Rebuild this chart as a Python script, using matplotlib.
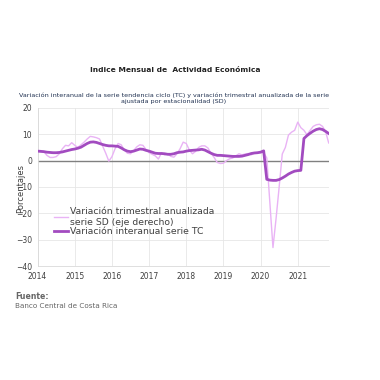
import numpy as np
import matplotlib
matplotlib.use("Agg")
import matplotlib.pyplot as plt

# monthly series, Jan 2014 .. Nov 2021
START_YEAR = 2014
tc = [
    3.6, 3.5, 3.4, 3.2, 3.1, 3.0, 3.0, 3.1, 3.3, 3.6, 3.9, 4.2,      # 2014
    4.4, 4.7, 5.1, 5.8, 6.5, 7.0, 7.1, 6.9, 6.5, 6.1, 5.8, 5.6,      # 2015
    5.6, 5.5, 5.4, 4.8, 4.1, 3.6, 3.4, 3.6, 4.0, 4.4, 4.3, 3.9,      # 2016
    3.6, 3.2, 2.8, 2.7, 2.7, 2.6, 2.4, 2.4, 2.6, 3.0, 3.2, 3.3,      # 2017
    3.6, 3.8, 3.9, 4.0, 4.1, 4.3, 4.0, 3.4, 2.8, 2.3, 2.0, 2.0,      # 2018
    1.9, 1.8, 1.7, 1.6, 1.6, 1.6, 1.7, 2.0, 2.3, 2.7, 2.9, 3.0,      # 2019
    3.2, 3.7, -7.1, -7.4, -7.5, -7.5, -7.2, -6.6, -5.9, -5.1, -4.5, -4.0,  # 2020
    -3.8, -3.7, 8.4, 9.5, 10.4, 11.2, 11.8, 12.1, 11.8, 11.1, 10.3,  # 2021
]
sd = [
    3.8, 3.8, 3.5, 2.0, 1.2, 1.2, 1.5, 2.6, 4.5, 5.8, 5.6, 6.8,
    5.8, 5.0, 6.0, 7.0, 8.2, 9.2, 9.0, 8.7, 8.2, 5.5, 2.8, -0.2,
    1.5, 4.5, 6.5, 6.0, 4.0, 2.8, 2.6, 3.8, 5.2, 6.0, 5.8, 4.2,
    3.0, 2.4, 1.8, 0.6, 3.0, 2.2, 2.6, 1.6, 1.3, 2.6, 4.5, 7.0,
    6.5, 4.0, 2.6, 3.5, 5.0, 5.6, 5.6, 4.8, 2.8, 1.2, -0.7, -1.1,
    -1.0, 0.0, 0.7, 1.0, 1.8, 2.6, 2.2, 2.5, 2.7, 2.2, 2.9, 3.0,
    3.1, 3.0, 1.0, -16.0, -33.0, -22.0, -10.0, 2.5, 5.0, 9.7, 10.8, 11.5,
    14.6, 12.5, 11.5, 9.8, 11.5, 13.0, 13.6, 13.8, 13.0, 11.0, 6.7,
]
year_ticks = list(range(2014, 2022))
y_ticks = [20, 10, 0, -10, -20, -30, -40]

label_sd = "Variación trimestral anualizada\nserie SD (eje derecho)"
label_tc = "Variación interanual serie TC"

x = START_YEAR + np.arange(len(tc)) / 12.0

fig = plt.figure(figsize=(3.8, 3.8), dpi=100)
ax = fig.add_axes([0.099, 0.30, 0.767, 0.416])

ax.plot(x, sd, color="#e9b3f5", lw=1.0, label=label_sd, zorder=3)
ax.plot(x, tc, color="#a24bc0", lw=2.0, label=label_tc, zorder=4)
ax.axhline(0, color="#808080", lw=1.0, zorder=2)

ax.set_xlim(2014, x[-1] + 0.01)
ax.set_ylim(-40, 20)
ax.set_xticks(year_ticks)
ax.set_xticklabels([str(y) for y in year_ticks])
ax.set_yticks(y_ticks)
ax.tick_params(length=0, labelsize=5.5, labelcolor="#404040", pad=4)
ax.grid(True, color="#e6e6e6", lw=0.6)
for side in ["top", "right"]:
    ax.spines[side].set_visible(False)
for side in ["left", "bottom"]:
    ax.spines[side].set_color("#d9d9d9")
    ax.spines[side].set_linewidth(0.6)

# the reference draws the axis title over the tick labels
fig.text(0.053, 0.505, "Porcentajes", rotation=90, ha="center", va="center",
         fontsize=6, color="#404040")

leg = ax.legend(loc="upper left", bbox_to_anchor=(0.045, 0.395), frameon=False,
                fontsize=6.7, handlelength=1.5, handletextpad=0.2,
                labelspacing=0.02, borderaxespad=0)
for t in leg.get_texts():
    t.set_color("#404040")

fig.text(0.46, 0.815, "Indice Mensual de  Actividad Económica", ha="center",
         va="center", fontsize=5.4, fontweight="bold", color="#222222")
fig.text(0.458, 0.742,
         "Variación interanual de la serie tendencia ciclo (TC) y variación trimestral anualizada de la serie\n"
         "ajustada por estacionalidad (SD)",
         ha="center", va="center", fontsize=4.6, color="#1f3050", linespacing=1.35)

fig.text(0.04, 0.221, "Fuente:", ha="left", va="center", fontsize=5.6,
         fontweight="bold", color="#666666")
fig.text(0.04, 0.195, "Banco Central de Costa Rica", ha="left", va="center",
         fontsize=5.2, color="#666666")

fig.savefig("out.png", dpi=100)
